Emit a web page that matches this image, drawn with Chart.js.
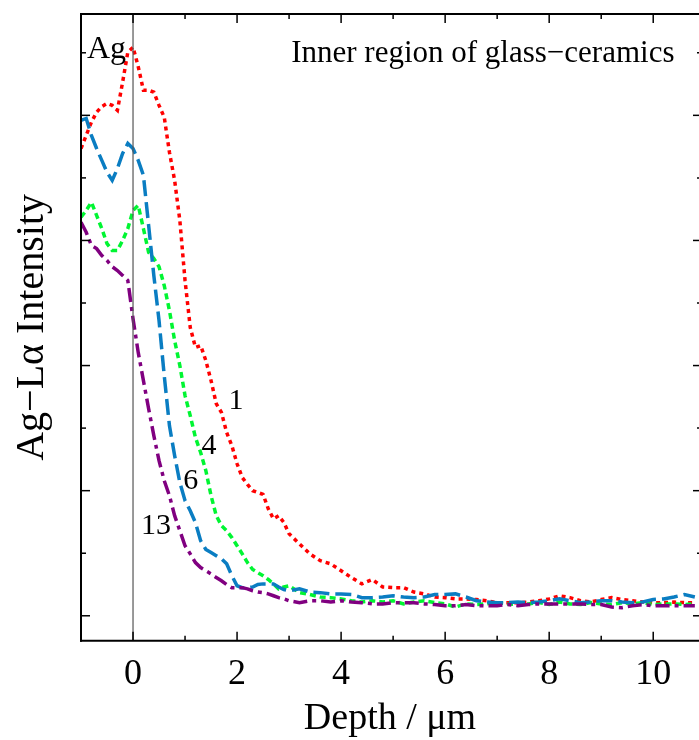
<!DOCTYPE html>
<html>
<head>
<meta charset="utf-8">
<script src="https://cdn.jsdelivr.net/npm/chart.js@4.4.1/dist/chart.umd.min.js"></script>
<style>
  html, body { margin: 0; padding: 0; background: #fff; }
  #wrap { width: 699px; height: 740px; }
</style>
</head>
<body>
<div id="wrap"><canvas id="depthChart" width="699" height="740"></canvas></div>
<script>
// depth in micrometres (denser where the profiles drop)
const depth = [
  -1.0, -0.9, -0.8, -0.7, -0.6, -0.5, -0.4, -0.3, -0.2, -0.1,
  0.0, 0.1, 0.2, 0.3, 0.4, 0.5, 0.6, 0.7, 0.8, 0.9,
  1.0, 1.1, 1.2, 1.3, 1.4, 1.5, 1.6, 1.7, 1.8, 1.9,
  2.0, 2.1, 2.2, 2.3, 2.4, 2.5, 2.6, 2.7, 2.8, 2.9,
  3.0, 3.2, 3.4, 3.6, 3.8, 4.0, 4.2, 4.4, 4.6, 4.8,
  5.0, 5.2, 5.4, 5.6, 5.8, 6.0, 6.2, 6.4, 6.6, 6.8,
  7.0, 7.2, 7.4, 7.6, 7.8, 8.0, 8.2, 8.4, 8.6, 8.8,
  9.0, 9.2, 9.4, 9.6, 9.8, 10.0, 10.2, 10.4, 10.6, 10.8
];

// Ag-La intensity (arb. units) for each sample
const sample1 = [
  7.47, 7.68, 7.89, 8.05, 8.14, 8.19, 8.16, 8.08, 8.53, 9.01,
  9.09, 8.78, 8.40, 8.40, 8.37, 8.16, 7.97, 7.41, 6.96, 6.32,
  5.36, 4.61, 4.29, 4.32, 4.08, 3.76, 3.39, 3.25, 2.93, 2.72,
  2.43, 2.21, 2.10, 2.00, 1.97, 1.94, 1.71, 1.55, 1.60, 1.49,
  1.31, 1.15, 0.99, 0.88, 0.83, 0.72, 0.61, 0.51, 0.58, 0.46,
  0.45, 0.45, 0.38, 0.35, 0.30, 0.29, 0.27, 0.27, 0.26, 0.24,
  0.21, 0.21, 0.21, 0.22, 0.24, 0.27, 0.32, 0.29, 0.24, 0.22,
  0.26, 0.29, 0.26, 0.24, 0.22, 0.21, 0.21, 0.22, 0.21, 0.21
];
const sample4 = [
  6.37, 6.48, 6.61, 6.40, 6.19, 5.95, 5.84, 5.84, 6.00, 6.19,
  6.48, 6.56, 6.19, 5.81, 5.71, 5.58, 5.28, 4.88, 4.40, 4.00,
  3.52, 3.20, 2.85, 2.61, 2.32, 1.92, 1.60, 1.44, 1.36, 1.25,
  1.12, 0.99, 0.85, 0.74, 0.69, 0.64, 0.58, 0.51, 0.43, 0.46,
  0.48, 0.37, 0.34, 0.30, 0.29, 0.27, 0.24, 0.22, 0.24, 0.22,
  0.24, 0.19, 0.22, 0.24, 0.21, 0.19, 0.14, 0.19, 0.18, 0.19,
  0.21, 0.19, 0.18, 0.19, 0.21, 0.18, 0.22, 0.19, 0.18, 0.21,
  0.19, 0.18, 0.21, 0.19, 0.21, 0.18, 0.19, 0.19, 0.18, 0.19
];
const sample6 = [
  7.92, 7.95, 7.68, 7.47, 7.28, 7.09, 6.96, 7.15, 7.39, 7.55,
  7.47, 7.28, 7.04, 6.24, 5.44, 4.72, 3.84, 3.04, 2.56, 2.13,
  1.84, 1.68, 1.49, 1.20, 1.06, 1.01, 0.96, 0.91, 0.83, 0.64,
  0.48, 0.45, 0.45, 0.46, 0.50, 0.51, 0.51, 0.51, 0.46, 0.42,
  0.40, 0.43, 0.38, 0.37, 0.35, 0.35, 0.34, 0.29, 0.29, 0.30,
  0.32, 0.30, 0.29, 0.30, 0.34, 0.34, 0.35, 0.30, 0.24, 0.22,
  0.21, 0.21, 0.22, 0.21, 0.22, 0.24, 0.27, 0.24, 0.21, 0.22,
  0.24, 0.24, 0.22, 0.21, 0.22, 0.26, 0.27, 0.30, 0.34, 0.30
];
const sample13 = [
  6.29, 6.13, 5.92, 5.87, 5.76, 5.68, 5.58, 5.52, 5.44, 5.36,
  4.75, 4.21, 3.76, 3.31, 2.88, 2.48, 2.16, 1.92, 1.60, 1.36,
  1.12, 0.99, 0.85, 0.77, 0.72, 0.67, 0.61, 0.56, 0.50, 0.45,
  0.45, 0.45, 0.43, 0.40, 0.38, 0.37, 0.35, 0.32, 0.29, 0.27,
  0.24, 0.21, 0.24, 0.24, 0.22, 0.24, 0.22, 0.21, 0.19, 0.19,
  0.21, 0.21, 0.21, 0.19, 0.18, 0.16, 0.16, 0.18, 0.16, 0.16,
  0.16, 0.18, 0.16, 0.18, 0.19, 0.19, 0.19, 0.19, 0.19, 0.18,
  0.18, 0.14, 0.13, 0.16, 0.18, 0.16, 0.16, 0.16, 0.16, 0.16
];

// in-plot text (positions in data units)
const curveLabels = [
  { text: '1', x: 1.98, y: 3.30 },
  { text: '4', x: 1.46, y: 2.59 },
  { text: '6', x: 1.11, y: 2.02 },
  { text: '13', x: 0.44, y: 1.31 }
];

const SERIF = "'Liberation Serif', 'Times New Roman', serif";

function toPoints(ys) {
  return depth.map((d, i) => ({ x: d, y: ys[i] }));
}

function isInt(v) {
  return Math.abs(v - Math.round(v)) < 1e-6;
}

// frame, inward ticks, zero line and labels
const framePlugin = {
  id: 'frame',
  afterDatasetsDraw(chart) {
    const { ctx, chartArea: a, scales } = chart;
    const xs = scales.x, ys = scales.y;
    ctx.save();

    const seg = (x1, y1, x2, y2) => {
      ctx.beginPath(); ctx.moveTo(x1, y1); ctx.lineTo(x2, y2); ctx.stroke();
    };

    // depth = 0 line
    const x0 = xs.getPixelForValue(0);
    ctx.strokeStyle = '#555';
    ctx.lineWidth = 1.2;
    seg(x0, a.top, x0, a.bottom);

    ctx.strokeStyle = '#000';
    ctx.lineWidth = 2;
    seg(a.left, a.top, a.left, a.bottom + 1);
    seg(a.left - 1, a.bottom, a.right, a.bottom);
    seg(a.left - 1, a.top, a.right, a.top);

    ctx.lineWidth = 1.5;
    xs.ticks.forEach(t => {
      if (!isInt(t.value) || t.value <= xs.min) return;
      const len = Math.round(t.value) % 2 === 0 ? 9 : 5;
      const px = xs.getPixelForValue(t.value);
      seg(px, a.bottom, px, a.bottom - len);
      seg(px, a.top, px, a.top + len);
    });
    ys.ticks.forEach(t => {
      if (!isInt(t.value)) return;
      const len = Math.round(t.value) % 2 === 0 ? 9 : 5;
      const py = ys.getPixelForValue(t.value);
      seg(a.left, py, a.left + len, py);
      seg(a.right + 3, py, a.right + 3 - len, py);
    });

    // texts
    ctx.fillStyle = '#000';
    ctx.textBaseline = 'alphabetic';
    ctx.textAlign = 'left';
    ctx.font = '32px ' + SERIF;
    ctx.fillText('Ag', xs.getPixelForValue(-0.885), ys.getPixelForValue(8.91));
    ctx.font = '31px ' + SERIF;
    ctx.fillText('Inner region of glass\u2212ceramics', xs.getPixelForValue(3.04), ys.getPixelForValue(8.86));

    ctx.textAlign = 'center';
    ctx.font = '30px ' + SERIF;
    curveLabels.forEach(l => {
      ctx.fillText(l.text, xs.getPixelForValue(l.x), ys.getPixelForValue(l.y));
    });
    ctx.restore();
  }
};

const common = { pointRadius: 0, borderWidth: 3.5, fill: false, tension: 0 };

new Chart(document.getElementById('depthChart'), {
  type: 'line',
  data: {
    datasets: [
      Object.assign({ label: '13', data: toPoints(sample13), borderColor: '#800080', borderDash: [14, 5, 4, 5] }, common),
      Object.assign({ label: '6', data: toPoints(sample6), borderColor: '#0a7dc2', borderDash: [16, 6] }, common),
      Object.assign({ label: '4', data: toPoints(sample4), borderColor: '#00f532', borderDash: [6, 4] }, common),
      Object.assign({ label: '1', data: toPoints(sample1), borderColor: '#ff0000', borderDash: [4, 4] }, common)
    ]
  },
  options: {
    responsive: false,
    animation: false,
    devicePixelRatio: 1,
    layout: { padding: { left: 0, right: -6, top: 14, bottom: 2 } },
    plugins: {
      legend: { display: false },
      tooltip: { enabled: false }
    },
    scales: {
      x: {
        type: 'linear',
        min: -1,
        max: 10.88,
        grid: { display: false },
        border: { display: false },
        ticks: {
          stepSize: 1,
          includeBounds: false,
          autoSkip: false,
          maxRotation: 0,
          padding: 4,
          color: '#000',
          font: { family: SERIF, size: 36, lineHeight: 1.2 },
          callback: v => (isInt(v) && Math.round(v) % 2 === 0 && v >= 0) ? String(Math.round(v)) : ''
        },
        title: {
          display: true,
          text: 'Depth / \u03bcm',
          color: '#000',
          font: { family: SERIF, size: 38, lineHeight: 1.0 },
          padding: { top: 0, bottom: 0 }
        }
      },
      y: {
        type: 'linear',
        min: -0.4,
        max: 9.62,
        grid: { display: false },
        border: { display: false },
        ticks: { display: false, stepSize: 1 },
        title: {
          display: true,
          text: 'Ag\u2212L\u03b1 Intensity',
          color: '#000',
          font: { family: SERIF, size: 40, lineHeight: 1.2 },
          padding: { top: 8, bottom: 17 }
        }
      }
    }
  },
  plugins: [framePlugin]
});
</script>
</body>
</html>
